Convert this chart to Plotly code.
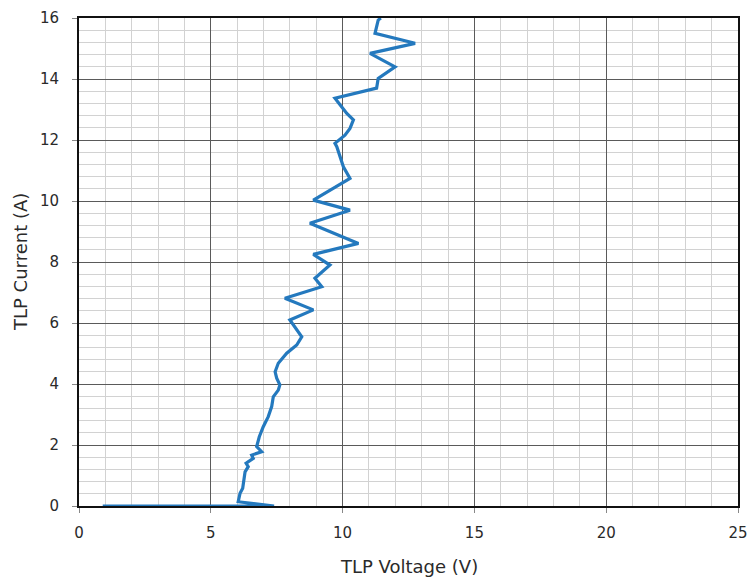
import plotly.graph_objects as go

# TLP I-V curve
tlp_voltage = [0.9, 7.4, 6.04, 6.11, 6.21, 6.30, 6.42, 6.34, 6.61, 6.55, 6.93, 6.74, 6.84, 6.99,
               7.18, 7.31, 7.37, 7.56, 7.62, 7.50, 7.44, 7.56, 7.88, 8.26, 8.45, 8.26, 8.00,
               8.89, 7.81, 9.21, 8.95, 9.52, 8.89, 10.60, 8.76, 10.28, 8.89,
               10.28, 10.03, 9.78, 9.71, 10.09, 10.28, 10.41, 10.16, 9.71, 11.29, 11.35,
               11.99, 11.04, 12.75, 11.23, 11.35, 11.45]
tlp_current = [0.0, 0.0, 0.14, 0.42, 0.58, 1.12, 1.29, 1.40, 1.56, 1.67, 1.78, 1.95, 2.27, 2.60,
               2.93, 3.26, 3.58, 3.80, 3.97, 4.19, 4.40, 4.68, 5.01, 5.28, 5.55, 5.77, 6.10,
               6.43, 6.81, 7.19, 7.47, 7.90, 8.25, 8.61, 9.27, 9.70, 10.03,
               10.74, 11.12, 11.78, 11.89, 12.16, 12.38, 12.66, 12.87, 13.37, 13.70, 14.02,
               14.40, 14.84, 15.17, 15.50, 15.93, 16.0]

x_ticks = [0, 5, 10, 15, 20, 25]
y_ticks = [0, 2, 4, 6, 8, 10, 12, 14, 16]
x_title = "TLP Voltage (V)"
y_title = "TLP Current (A)"

fig = go.Figure()
fig.add_trace(go.Scatter(
    x=tlp_voltage, y=tlp_current, mode="lines",
    line=dict(color="#2479be", width=3.2),
    showlegend=False,
))

font_color = "#2a2a2a"
fam = "DejaVu Sans, Liberation Sans, sans-serif"
fig.update_layout(
    width=750, height=579,
    margin=dict(l=79, r=12, t=18, b=73, autoexpand=False),
    paper_bgcolor="white", plot_bgcolor="white",
    font=dict(family=fam, size=15, color=font_color),
    xaxis=dict(
        range=[0, 25], tickvals=x_ticks, ticks="outside", ticklen=5, tickcolor="#888",
        ticklabelstandoff=7, automargin=False,
        showline=True, linecolor="#111", linewidth=2, mirror=True,
        showgrid=True, gridcolor="#5a5a5a", gridwidth=1, zeroline=False,
        minor=dict(dtick=1, showgrid=True, gridcolor="#d2d2d2", gridwidth=1),
        tickfont=dict(size=15, color=font_color),
    ),
    yaxis=dict(
        range=[0, 16], tickvals=y_ticks, ticks="outside", ticklen=5, tickcolor="#888",
        ticklabelstandoff=10, automargin=False,
        showline=True, linecolor="#111", linewidth=2, mirror=True,
        showgrid=True, gridcolor="#5a5a5a", gridwidth=1, zeroline=False,
        minor=dict(dtick=0.4, tick0=0, showgrid=True, gridcolor="#d2d2d2", gridwidth=1),
        tickfont=dict(size=15, color=font_color),
    ),
    annotations=[
        dict(text=x_title, xref="paper", yref="paper", x=0.5, y=0, xanchor="center",
             yanchor="middle", yshift=-60, showarrow=False,
             font=dict(size=18, color=font_color)),
        dict(text=y_title, xref="paper", yref="paper", x=0, y=0.5, xanchor="center",
             yanchor="middle", xshift=-59, textangle=-90, showarrow=False,
             font=dict(size=18, color=font_color)),
    ],
)

fig.write_html("out.html")
